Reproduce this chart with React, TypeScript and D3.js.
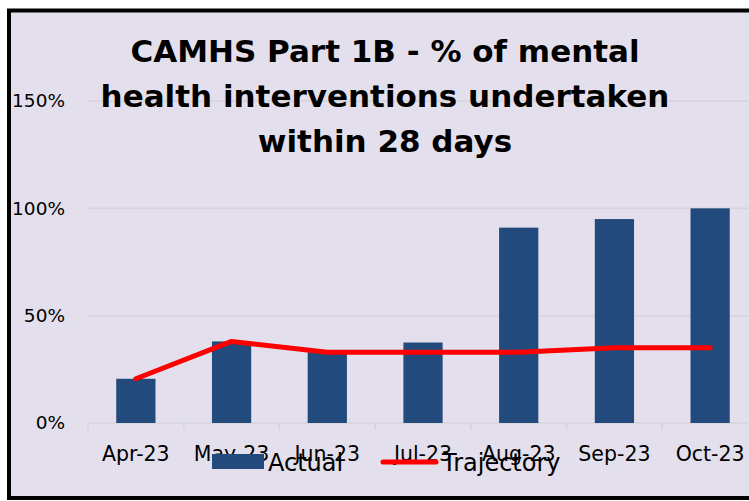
import { curveLinear, line as d3_line, scaleBand, scaleLinear } from "d3";
import type { FC } from "react";

const months = ["Apr-23", "May-23", "Jun-23", "Jul-23", "Aug-23", "Sep-23", "Oct-23"];
const actual = [20.6, 38, 33, 37.5, 91, 95, 100];
const trajectory = [20.6, 38, 33, 33, 33, 35, 35];
const yTicks = [0, 50, 100, 150];
const titleLines = ["CAMHS Part 1B - % of mental", "health interventions undertaken", "within 28 days"];

const W = 749;
const H = 501;
const plotLeft = 88;
const plotRight = 758;
const plotTop = 101;
const plotBottom = 423;

const font = "Tahoma, 'DejaVu Sans', sans-serif";

const App: FC = () => {
  const x = scaleBand<string>().domain(months).range([plotLeft, plotRight]).paddingInner(0.59).paddingOuter(0.295);
  const band = scaleBand<string>().domain(months).range([plotLeft, plotRight]);
  const y = scaleLinear().domain([0, 150]).range([plotBottom, plotTop]);

  const cx = (m: string) => (band(m) ?? 0) + band.bandwidth() / 2;

  const trajLine = d3_line<number>()
    .x((_, i) => cx(months[i]))
    .y((d) => y(d))
    .curve(curveLinear);

  return (
    <div style={{ position: "fixed", left: 0, top: 0 }}>
      <svg width={W} height={H} style={{ display: "block" }}>
        <rect x={0} y={0} width={W} height={H} fill="#ffffff" />
        <rect x={9} y={10.5} width={800} height={487.5} fill="#E4DFEC" stroke="#000" strokeWidth={4} />

        {/* gridlines */}
        {yTicks.map((t) => (
          <line key={t} x1={plotLeft} x2={plotRight} y1={y(t)} y2={y(t)} stroke="#D6D3DA" strokeWidth={1.5} />
        ))}
        {/* category ticks */}
        {[...months, ""].map((m, i) => {
          const xx = plotLeft + i * band.bandwidth();
          return <line key={i} x1={xx} x2={xx} y1={plotBottom} y2={plotBottom + 7} stroke="#D6D3DA" strokeWidth={1.5} />;
        })}

        {/* y labels */}
        {yTicks.map((t) => (
          <text key={t} x={65} y={y(t)} dy="0.35em" textAnchor="end" fontFamily={font} fontSize={18.5} fill="#000">
            {t}%
          </text>
        ))}

        {/* bars */}
        {actual.map((v, i) => (
          <rect
            key={months[i]}
            x={x(months[i])}
            y={y(v)}
            width={x.bandwidth()}
            height={y(0) - y(v)}
            fill="#224A7D"
          />
        ))}

        {/* trajectory */}
        <path d={trajLine(trajectory) ?? ""} fill="none" stroke="#FF0000" strokeWidth={5} strokeLinecap="round" strokeLinejoin="round" />

        {/* x labels */}
        {months.map((m) => (
          <text key={m} x={cx(m)} y={461} textAnchor="middle" fontFamily={font} fontSize={20.5} fill="#000">
            {m}
          </text>
        ))}

        {/* legend */}
        <rect x={212} y={454} width={52} height={15} fill="#224A7D" />
        <text x={268} y={471} fontFamily={font} fontSize={24} fill="#000">Actual</text>
        <line x1={383} x2={436} y1={462} y2={462} stroke="#FF0000" strokeWidth={5} strokeLinecap="round" />
        <text x={442} y={471} fontFamily={font} fontSize={24} fill="#000">Trajectory</text>

        {/* title */}
        {titleLines.map((l, i) => (
          <text key={i} x={385} y={62 + i * 45} textAnchor="middle" fontFamily={font} fontWeight="bold" fontSize={31} fill="#000">
            {l}
          </text>
        ))}
      </svg>
    </div>
  );
};

export default App;
